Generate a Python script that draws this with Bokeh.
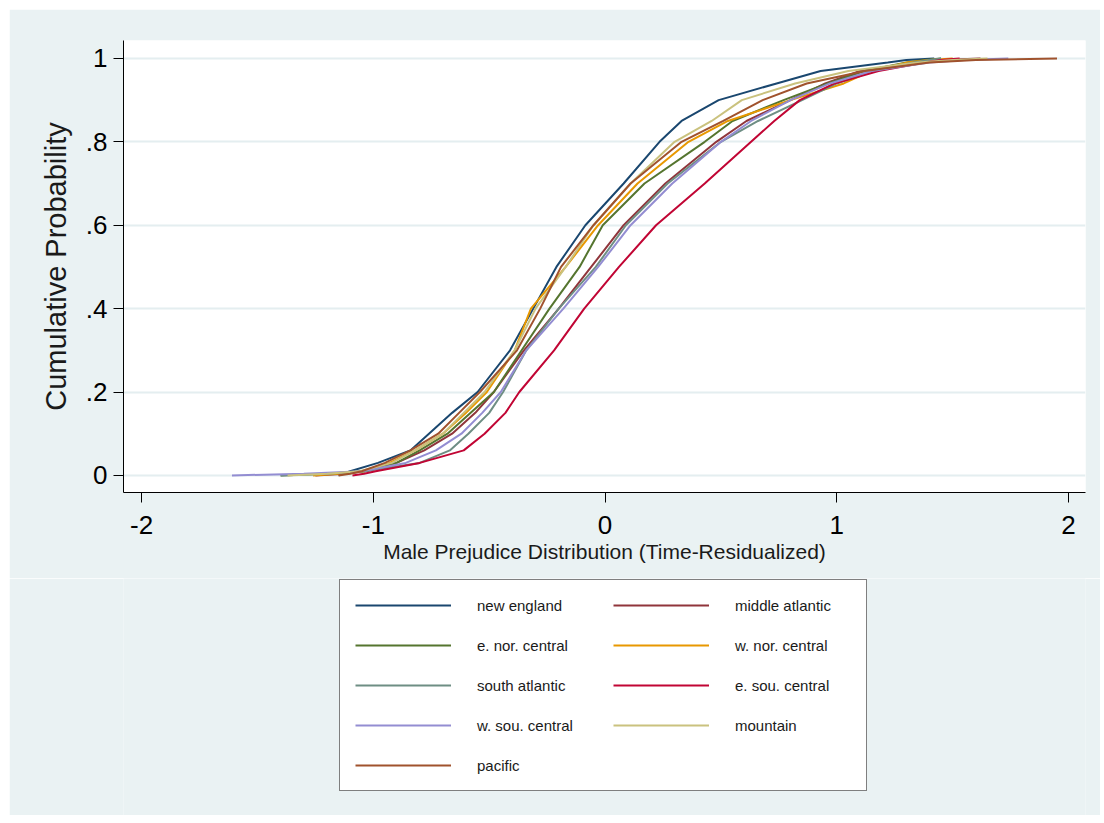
from bokeh.plotting import figure
from bokeh.models import Legend, LegendItem, FixedTicker, Range1d
from bokeh.layouts import column
from bokeh.embed import file_html
from bokeh.resources import INLINE

# cumulative probability levels (shared by all series)
probs = [0, 0.004, 0.01, 0.03, 0.06, 0.1, 0.15, 0.2, 0.3, 0.4, 0.5,
         0.6, 0.7, 0.8, 0.85, 0.9, 0.94, 0.97, 0.99, 0.996, 1.0]

# x value (male prejudice, time-residualized) reached at each probability level
new_england     = [-1.15, -1.13, -1.10, -0.98, -0.84, -0.76, -0.66, -0.55, -0.41, -0.31, -0.21,
                   -0.085, 0.08, 0.235, 0.33, 0.49, 0.74, 0.93, 1.22, 1.30, 1.42]
middle_atlantic = [-1.25, -1.12, -1.04, -0.90, -0.78, -0.66, -0.56, -0.48, -0.35, -0.20, -0.06,
                   0.08, 0.26, 0.48, 0.61, 0.80, 0.95, 1.10, 1.33, 1.45, 1.62]
e_nor_central   = [-1.40, -1.20, -1.03, -0.90, -0.80, -0.68, -0.58, -0.48, -0.36, -0.24, -0.11,
                   -0.01, 0.17, 0.43, 0.55, 0.77, 0.96, 1.12, 1.30, 1.38, 1.45]
w_nor_central   = [-1.26, -1.15, -1.04, -0.93, -0.82, -0.70, -0.60, -0.51, -0.39, -0.32, -0.17,
                   -0.03, 0.14, 0.36, 0.53, 0.80, 1.03, 1.15, 1.30, 1.40, 1.50]
south_atlantic  = [-1.40, -1.20, -1.04, -0.80, -0.67, -0.59, -0.50, -0.44, -0.34, -0.20, -0.04,
                   0.09, 0.27, 0.50, 0.66, 0.85, 1.00, 1.15, 1.33, 1.40, 1.45]
e_sou_central   = [-1.09, -1.04, -0.99, -0.80, -0.61, -0.52, -0.43, -0.37, -0.22, -0.09, 0.06,
                   0.22, 0.43, 0.63, 0.73, 0.84, 0.99, 1.18, 1.38, 1.45, 1.53]
w_sou_central   = [-1.61, -1.30, -1.05, -0.86, -0.73, -0.62, -0.53, -0.45, -0.34, -0.18, -0.03,
                   0.11, 0.29, 0.50, 0.63, 0.80, 0.97, 1.15, 1.40, 1.55, 1.74]
mountain        = [-1.37, -1.20, -1.06, -0.92, -0.82, -0.70, -0.61, -0.52, -0.39, -0.30, -0.17,
                   -0.05, 0.11, 0.30, 0.46, 0.59, 0.82, 1.05, 1.35, 1.50, 1.65]
pacific         = [-1.15, -1.10, -1.05, -0.95, -0.84, -0.72, -0.63, -0.54, -0.38, -0.28, -0.19,
                   -0.05, 0.11, 0.33, 0.51, 0.68, 0.87, 1.12, 1.40, 1.60, 1.95]

regions = ["new england", "middle atlantic", "e. nor. central", "w. nor. central",
           "south atlantic", "e. sou. central", "w. sou. central", "mountain", "pacific"]
series = [new_england, middle_atlantic, e_nor_central, w_nor_central, south_atlantic,
          e_sou_central, w_sou_central, mountain, pacific]
colors = ["#1a476f", "#90353b", "#55752f", "#e89800", "#6e8e84",
          "#c10534", "#938dd2", "#cac27e", "#a0522d"]

x_ticks = [-2, -1, 0, 1, 2]
x_tick_labels = ["-2", "-1", "0", "1", "2"]
y_ticks = [0, 0.2, 0.4, 0.6, 0.8, 1.0]
y_tick_labels = ["0", ".2", ".4", ".6", ".8", "1"]

BG = "#eaf2f3"
FONT = "Liberation Sans"

p = figure(width=1091, height=569, output_backend="svg", toolbar_location=None,
           x_range=Range1d(-2.078, 2.073), y_range=Range1d(-0.041, 1.043),
           min_border_left=114, min_border_right=15, min_border_top=31,
           min_border_bottom=86)
p.border_fill_color = BG
p.background_fill_color = "white"
p.outline_line_color = None

p.xgrid.visible = False
p.ygrid.ticker = FixedTicker(ticks=y_ticks)
p.ygrid.grid_line_color = "#e4eef0"
p.ygrid.grid_line_width = 2

for ax, ticks, labels in ((p.xaxis[0], x_ticks, x_tick_labels), (p.yaxis[0], y_ticks, y_tick_labels)):
    ax.ticker = FixedTicker(ticks=ticks)
    ax.major_label_overrides = {t: l for t, l in zip(ticks, labels)}
    ax.axis_line_color = "black"
    ax.axis_line_width = 1
    ax.major_tick_line_color = "black"
    ax.major_tick_out = 10
    ax.major_tick_in = 0
    ax.minor_tick_line_color = None
    ax.major_label_text_font = FONT
    ax.major_label_text_font_size = "26px"
    ax.major_label_text_color = "black"
    ax.axis_label_text_font_style = "normal"
    ax.axis_label_text_color = "#1a1a1a"

p.xaxis.major_label_standoff = 13
p.xaxis.axis_label = "Male Prejudice Distribution (Time-Residualized)"
p.xaxis.axis_label_text_font = FONT
p.xaxis.axis_label_text_font_size = "21px"
p.xaxis.axis_label_standoff = 3

p.yaxis.major_label_standoff = 6
p.yaxis.major_label_orientation = "horizontal"
p.yaxis.axis_label = "Cumulative Probability"
p.yaxis.axis_label_text_font = FONT
p.yaxis.axis_label_text_font_size = "29px"
p.yaxis.axis_label_standoff = 11

for xs, c in zip(series, colors):
    p.line(x=xs, y=probs, line_color=c, line_width=2)

# legend panel: a second figure whose frame shows none of the data
# (its y range lies above all probabilities), so only the legend box is seen
pl = figure(width=1091, height=237, output_backend="svg", toolbar_location=None,
            x_range=Range1d(-2.078, 2.073), y_range=Range1d(5, 6),
            x_axis_type=None, y_axis_type=None,
            min_border_left=114, min_border_right=15, min_border_top=0, min_border_bottom=0)
pl.border_fill_color = BG
pl.background_fill_color = BG
pl.outline_line_color = None
pl.grid.visible = False

items = []
for name, xs, c in zip(regions, series, colors):
    r = pl.line(x=xs, y=probs, line_color=c, line_width=2)
    items.append(LegendItem(label=name, renderers=[r]))

legend = Legend(items=items, orientation="horizontal", ncols=2,
                location=(216, 24), margin=0, padding=15, spacing=20,
                glyph_width=96, glyph_height=20, label_height=20, label_width=116,
                label_standoff=26, label_text_font=FONT, label_text_font_size="15px",
                label_text_color="#1a1a1a",
                border_line_color="black", border_line_width=1,
                background_fill_color="white", background_fill_alpha=1.0)
pl.add_layout(legend)

layout = column(p, pl, spacing=0)
layout.margin = (9, 0, 0, 9)

open("out.html", "w").write(file_html(layout, INLINE))
